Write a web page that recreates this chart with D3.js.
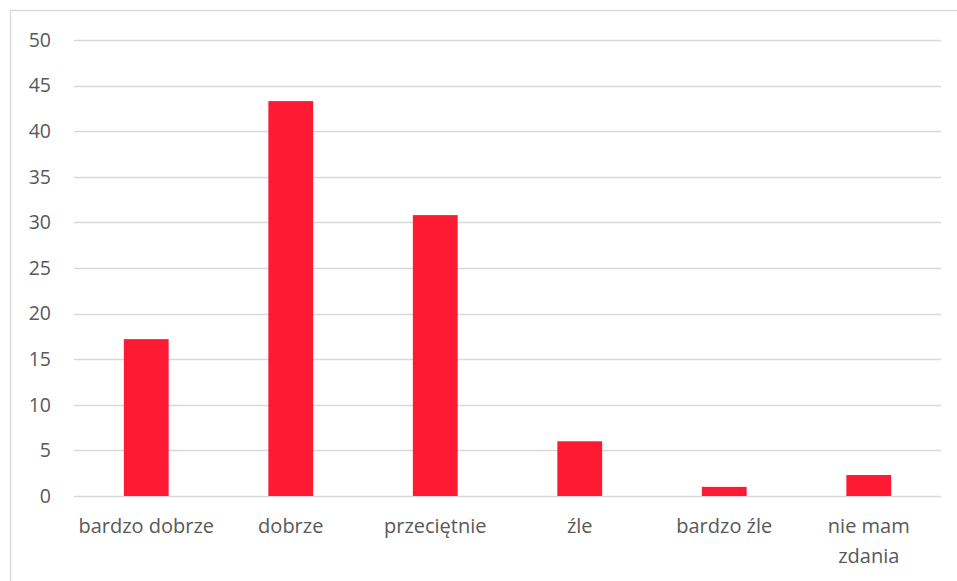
<!DOCTYPE html>
<html>
<head>
<meta charset="utf-8">
<script src="https://cdn.jsdelivr.net/npm/d3@7"></script>
<style>
    body { margin: 0; background: #fff; }
    svg text { font-family: "Open Sans", "Noto Sans", sans-serif; fill: #595959; }
</style>
</head>
<body>
<svg id="chart" width="957" height="581"></svg>
<script>
var categories = ["bardzo dobrze", "dobrze", "przeciętnie", "źle", "bardzo źle", "nie mam zdania"];
var values = [17.2, 43.3, 30.8, 6.0, 1.0, 2.3];
var yTicks = [0, 5, 10, 15, 20, 25, 30, 35, 40, 45, 50];

var margin = { top: 40, right: 16, bottom: 85, left: 74 };
var width = 957 - margin.left - margin.right;
var height = 581 - margin.top - margin.bottom;

var svg = d3.select("#chart");

// outer chart border (only top and left visible in the crop)
svg.append("rect")
    .attr("x", 10.5)
    .attr("y", 10.5)
    .attr("width", 1000)
    .attr("height", 1000)
    .attr("fill", "none")
    .attr("stroke", "#d9d9d9")
    .attr("stroke-width", 1.5);

var chart = svg.append("g")
    .attr("transform", "translate(" + margin.left + "," + margin.top + ")");

var x = d3.scaleBand()
    .domain(categories)
    .range([0, width])
    .paddingInner(0.69)
    .paddingOuter(0.345);

var y = d3.scaleLinear()
    .domain([0, 50])
    .range([height, 0]);

// gridlines
chart.append("g")
    .attr("class", "grid")
    .selectAll("line")
    .data(yTicks)
    .enter().append("line")
    .attr("x1", 0)
    .attr("x2", width)
    .attr("y1", function(d) { return Math.round(y(d)) + 0.5; })
    .attr("y2", function(d) { return Math.round(y(d)) + 0.5; })
    .attr("stroke", "#d9d9d9")
    .attr("stroke-width", 1.5);

// y axis labels
var yAxis = d3.axisLeft(y).tickValues(yTicks).tickSize(0).tickPadding(23);
chart.append("g")
    .call(yAxis)
    .call(function(g) { g.select(".domain").remove(); })
    .selectAll("text")
    .attr("font-size", 19.5)
    .attr("font-family", "Open Sans, sans-serif")
    .attr("fill", "#595959");

// bars
chart.selectAll(".bar")
    .data(values)
    .enter().append("rect")
    .attr("class", "bar")
    .attr("x", function(d, i) { return x(categories[i]); })
    .attr("y", function(d) { return y(d); })
    .attr("width", x.bandwidth())
    .attr("height", function(d) { return height - y(d); })
    .attr("fill", "#ff1a33");

// x axis labels (wrapped like excel)
var xAxis = d3.axisBottom(x).tickSize(0).tickPadding(0);
var xg = chart.append("g")
    .attr("transform", "translate(0," + height + ")")
    .call(xAxis);
xg.select(".domain").remove();
xg.selectAll("text").remove();

var labelLines = {
    "nie mam zdania": ["nie mam", "zdania"]
};

xg.selectAll(".tick").each(function(d) {
    var lines = labelLines[d] || [d];
    var t = d3.select(this).append("text")
        .attr("text-anchor", "middle")
        .attr("font-size", 20)
        .attr("fill", "#595959");
    lines.forEach(function(line, i) {
        t.append("tspan")
            .attr("x", 0)
            .attr("y", 37 + i * 30)
            .text(line);
    });
});
</script>
</body>
</html>
